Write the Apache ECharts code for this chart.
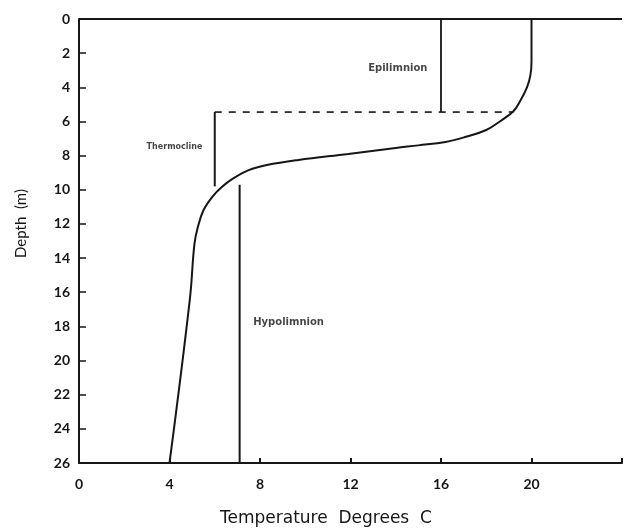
<!DOCTYPE html>
<html>
<head>
<meta charset="utf-8">
<script src="https://cdn.jsdelivr.net/npm/echarts@6/dist/echarts.min.js"></script>
<style>
html,body{margin:0;padding:0;background:#fff;}
#chart{width:625px;height:530px;}
</style>
</head>
<body>
<div id="chart"></div>
<script>
// Temperature profile (temperature °C, depth m)
var profileTemp  = [20.0, 20.0, 19.95, 19.8, 19.5, 19.2, 18.6, 18.0, 17.1, 16.2, 15.0, 14.0, 11.9, 9.7, 8.3, 7.5, 6.8, 6.3, 5.9, 5.5, 5.25, 5.1, 4.9, 4.0];
var profileDepth = [0.0, 2.5, 3.3, 4.0, 4.8, 5.4, 6.0, 6.5, 6.9, 7.2, 7.4, 7.55, 7.9, 8.25, 8.55, 8.85, 9.35, 9.85, 10.4, 11.2, 12.2, 13.2, 16.4, 26.0];

// Layer annotation lines (temperature, depth)
var epiLineTemp = [16, 16];         var epiLineDepth = [0, 5.45];
var baseLineTemp = [6, 19.2];       var baseLineDepth = [5.45, 5.45];
var thermoLineTemp = [6, 6];        var thermoLineDepth = [5.45, 9.8];
var hypoLineTemp = [7.1, 7.1];      var hypoLineDepth = [9.7, 26];

// Layer labels
var layerNames = ["Epilimnion", "Thermocline", "Hypolimnion"];
var layerTemp  = [15.4, 5.45, 7.7];
var layerDepth = [2.9, 7.5, 17.75];
var layerAlign = ['right', 'right', 'left'];
var layerSize  = [10, 8, 10];

// Axis ticks
var xTicks = [0, 4, 8, 12, 16, 20];
var yTicks = [0, 2, 4, 6, 8, 10, 12, 14, 16, 18, 20, 22, 24, 26];

function zip(a, b) { return a.map(function (v, i) { return [v, b[i]]; }); }

var ink = '#161616';
var font = 'Lato';

var chart = echarts.init(document.getElementById('chart'));
chart.setOption({
  animation: false,
  backgroundColor: '#fff',
  grid: { left: 79, right: 0, top: 19, bottom: 67 },
  xAxis: {
    type: 'value', min: 0, max: 24, interval: 4,
    axisLine: { show: true, onZero: false, lineStyle: { color: ink, width: 2 } },
    axisTick: { show: true, inside: true, length: 5, lineStyle: { color: ink, width: 2 } },
    axisLabel: {
      color: ink, fontFamily: font, fontWeight: 'bold', fontSize: 14, margin: 14,
      formatter: function (v) { return xTicks.indexOf(v) >= 0 ? String(v) : ''; }
    },
    splitLine: { show: false }
  },
  yAxis: {
    type: 'value', inverse: true, min: 0, max: 26, interval: 2,
    axisLine: { show: true, onZero: false, lineStyle: { color: ink, width: 2 } },
    axisTick: { show: true, inside: true, length: 7, lineStyle: { color: ink, width: 1.5 } },
    axisLabel: {
      color: ink, fontFamily: font, fontWeight: 'bold', fontSize: 14, margin: 9,
      formatter: function (v) { return yTicks.indexOf(v) >= 0 ? String(v) : ''; }
    },
    splitLine: { show: false }
  },
  graphic: [
    { type: 'text', left: 220, top: 510,
      style: { text: 'Temperature  Degrees  C', fill: ink, font: '17px "DejaVu Sans"' } },
    { type: 'text', rotation: Math.PI / 2, x: 14, y: 258,
      style: { text: 'Depth  (m)', fill: ink, font: '15px Lato' } }
  ],
  series: [
    { type: 'line', data: zip(profileTemp, profileDepth), smooth: 0.4,
      symbol: 'none', lineStyle: { color: ink, width: 2 },
      markLine: {
        silent: true, symbol: 'none', label: { show: false },
        lineStyle: { color: ink, width: 2, type: 'solid' },
        data: [{ yAxis: 0 }]
      }
    },
    { type: 'line', data: zip(epiLineTemp, epiLineDepth), symbol: 'none',
      lineStyle: { color: ink, width: 1.8 } },
    { type: 'line', data: zip(baseLineTemp, baseLineDepth), symbol: 'none',
      lineStyle: { color: ink, width: 1.6, type: [7, 7] } },
    { type: 'line', data: zip(thermoLineTemp, thermoLineDepth), symbol: 'none',
      lineStyle: { color: ink, width: 2 } },
    { type: 'line', data: zip(hypoLineTemp, hypoLineDepth), symbol: 'none',
      lineStyle: { color: ink, width: 2 } },
    { type: 'scatter', symbolSize: 0,
      data: layerNames.map(function (n, i) {
        return { name: n, value: [layerTemp[i], layerDepth[i]],
                 label: { align: layerAlign[i], fontSize: layerSize[i] } };
      }),
      label: {
        show: true, formatter: '{b}', color: ink, fontFamily: 'DejaVu Sans', fontWeight: 'bold',
        position: 'inside', verticalAlign: 'middle'
      }
    }
  ]
});
</script>
</body>
</html>
